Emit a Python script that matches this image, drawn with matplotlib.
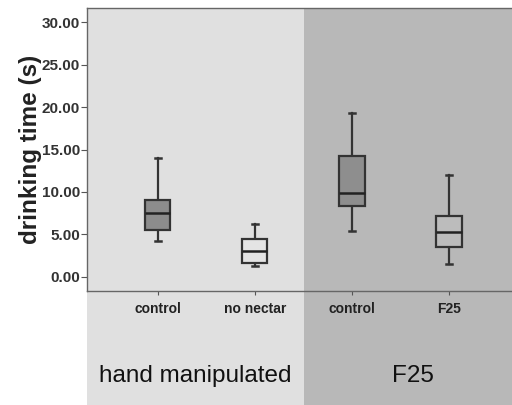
import matplotlib
matplotlib.use('Agg')
import matplotlib.pyplot as plt
from matplotlib.patches import Rectangle

# box statistics
groups = ['control', 'no nectar', 'control', 'F25']
whislo = [4.2, 1.2, 5.4, 1.5]
q1 = [5.55, 1.6, 8.3, 3.5]
med = [7.45, 3.0, 9.9, 5.3]
q3 = [9.05, 4.4, 14.2, 7.15]
whishi = [14.0, 6.25, 19.35, 12.0]
box_fill = ['#8c8c8c', '#e4e4e4', '#8e8e8e', '#bcbcbc']
yticks = [0, 5, 10, 15, 20, 25, 30]
panel_names = ['hand manipulated', 'F25']

plt.rcParams['font.family'] = ['Liberation Sans', 'DejaVu Sans']

fig = plt.figure(figsize=(5.12, 4.05), dpi=100)
ax = fig.add_axes([87 / 512, 1 - 291 / 405, 1 - 87 / 512, 283 / 405])

stats = []
for i in range(len(groups)):
    stats.append(dict(whislo=whislo[i], q1=q1[i], med=med[i], q3=q3[i],
                      whishi=whishi[i], fliers=[], label=groups[i]))

pos = [1, 2, 3, 4]
bp = ax.bxp(stats, positions=pos, widths=0.26, patch_artist=True,
            showfliers=False,
            boxprops=dict(edgecolor='#333333', linewidth=1.6),
            medianprops=dict(color='#222222', linewidth=1.8),
            whiskerprops=dict(color='#333333', linewidth=1.6),
            capprops=dict(color='#333333', linewidth=1.8),
            capwidths=0.06)
for b, c in zip(bp['boxes'], box_fill):
    b.set_facecolor(c)
    b.set_zorder(3)
for m in bp['medians']:
    m.set_zorder(4)

# shaded panels, reaching below the axis down to the figure edge
tr = ax.get_xaxis_transform()
split = 2.51
ax.add_patch(Rectangle((0.27, -0.41), split - 0.27, 1.41, transform=tr,
                       facecolor='#e0e0e0', edgecolor='none', clip_on=False, zorder=0))
ax.add_patch(Rectangle((split, -0.41), 4.7 - split, 1.41, transform=tr,
                       facecolor='#b8b8b8', edgecolor='none', clip_on=False, zorder=0))
ax.set_facecolor('none')

ax.set_xlim(0.27, 4.65)
ax.set_ylim(-1.7, 31.7)
ax.set_yticks(yticks)
ax.set_yticklabels(['%.2f' % v for v in yticks], fontsize=11, color='#333333',
                   fontweight='bold')
ax.set_xticks(pos)
ax.set_xticklabels(groups, fontsize=10, color='#222222', fontweight='bold')
ax.tick_params(axis='y', length=4, color='#555555', pad=1)
ax.tick_params(axis='x', length=3, color='#555555', pad=5)
ax.set_ylabel('drinking time (s)', fontsize=17.5, fontweight='bold', labelpad=0,
              color='#222222')

for s in ['top', 'left', 'bottom']:
    ax.spines[s].set_color('#666666')
    ax.spines[s].set_linewidth(1.0)
ax.spines['right'].set_visible(False)

ax.text((0.27 + split) / 2, -0.30, panel_names[0], transform=tr, ha='center',
        va='center', fontsize=17.5, color='#111111')
ax.text((split + 4.65) / 2 + 0.05, -0.30, panel_names[1], transform=tr, ha='center',
        va='center', fontsize=17.5, color='#111111')

fig.savefig('out.png', dpi=100)
